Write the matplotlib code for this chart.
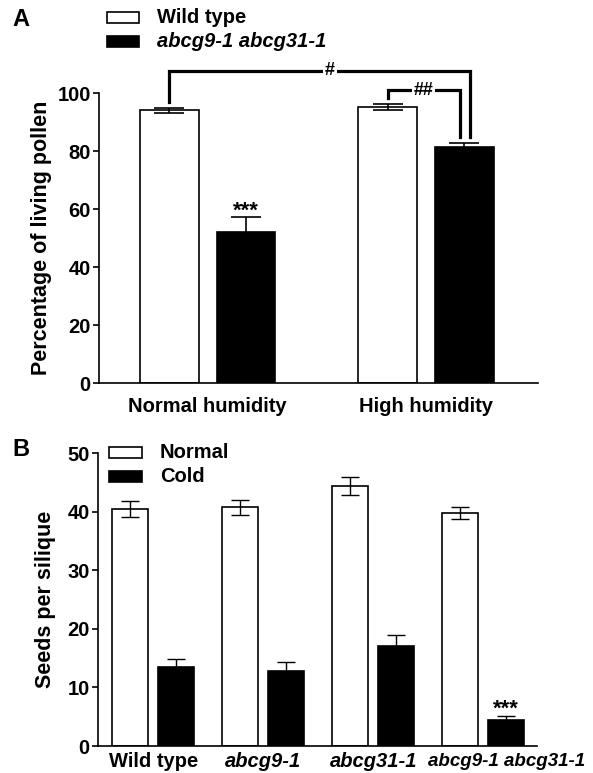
import numpy as np
import matplotlib
matplotlib.use('Agg')
import matplotlib.pyplot as plt
from matplotlib.patches import Rectangle
from matplotlib.transforms import ScaledTranslation

plt.rcParams['font.family'] = ['Liberation Sans', 'DejaVu Sans']
plt.rcParams['font.weight'] = 'bold'

# panel A: pollen viability
a_groups = ['Normal humidity', 'High humidity']
a_wt = [94.1, 95.3]
a_wt_err = [0.9, 1.0]
a_mut = [52.2, 81.5]
a_mut_err = [5.0, 1.4]

# panel B: seeds per silique
b_groups = ['Wild type', 'abcg9-1', 'abcg31-1', 'abcg9-1 abcg31-1']
b_normal = [40.5, 40.8, 44.4, 39.8]
b_normal_err = [1.3, 1.3, 1.5, 1.0]
b_cold = [13.5, 12.8, 17.1, 4.4]
b_cold_err = [1.3, 1.5, 1.9, 0.7]

W, H = 593, 773
FS = 14.5
fig = plt.figure(figsize=(W / 100, H / 100), dpi=100)


def fx(px):
    return px / W


def fy(py):
    return 1 - py / H


def style_axes(ax, xpad):
    for s in ['top', 'right']:
        ax.spines[s].set_visible(False)
    for s in ['left', 'bottom']:
        ax.spines[s].set_linewidth(1.2)
    ax.tick_params(axis='y', direction='out', length=4, width=1.2, pad=2, labelsize=FS)
    ax.tick_params(axis='x', length=0, pad=xpad, labelsize=FS)
    for lab in ax.get_yticklabels() + ax.get_xticklabels():
        lab.set_fontweight('bold')


def legend_box(x0, y0, x1, y1, filled, label, italic=False):
    fig.add_artist(Rectangle((fx(x0), fy(y1)), fx(x1) - fx(x0), fy(y0) - fy(y1),
                             transform=fig.transFigure, facecolor='black' if filled else 'white',
                             edgecolor='black', linewidth=1.2))
    fig.text(fx(x1 + 18), fy((y0 + y1) / 2), label, fontsize=FS, fontweight='bold',
             style='italic' if italic else 'normal', va='center', ha='left')


# ---------------- Panel A ----------------
axA = fig.add_axes([fx(99), fy(383.3), fx(538) - fx(99), fy(93.3) - fy(383.3)])
xa = np.arange(len(a_groups))
wa = 0.27
off = 0.176
axA.bar(xa - off, a_wt, wa, color='white', edgecolor='black', linewidth=1.2)
axA.bar(xa + off, a_mut, wa, color='black', edgecolor='black', linewidth=1.2)
axA.errorbar(xa - off, a_wt, yerr=a_wt_err, fmt='none', ecolor='black', elinewidth=1.2,
             capsize=10.5, capthick=1.2)
axA.errorbar(xa + off, a_mut, yerr=a_mut_err, fmt='none', ecolor='black', elinewidth=1.2,
             capsize=10.5, capthick=1.2)
axA.set_xlim(-0.497, 1.513)
axA.set_ylim(0, 100)
axA.set_yticks(np.arange(0, 101, 20))
axA.set_xticks(xa, a_groups)
axA.set_ylabel('Percentage of living pollen', fontsize=15.5, fontweight='bold', labelpad=4)
style_axes(axA, 10)

# significance stars
axA.text(xa[0] + off, a_mut[0] + a_mut_err[0] + 2.0, '***', ha='center', va='center',
         fontsize=16, fontweight='bold')

# brackets
lw_b = 2.3
y_hash = 107.7
axA.plot([xa[0] - off, xa[0] - off, xa[1] + off + 0.025, xa[1] + off + 0.025],
         [a_wt[0] + 3.0, y_hash, y_hash, a_mut[1] + 3.4], color='black', lw=lw_b,
         clip_on=False, solid_joinstyle='miter')
axA.text(0.56, y_hash, '#', ha='center', va='center', fontsize=13, fontweight='bold',
         bbox=dict(facecolor='white', edgecolor='none', pad=1.5), clip_on=False)
y_hh = 101.1
axA.plot([xa[1] - off, xa[1] - off, xa[1] + off - 0.02, xa[1] + off - 0.02],
         [a_wt[1] + 3.1, y_hh, y_hh, a_mut[1] + 3.4], color='black', lw=lw_b,
         clip_on=False, solid_joinstyle='miter')
axA.text(0.99, y_hh, '##', ha='center', va='center', fontsize=13, fontweight='bold',
         bbox=dict(facecolor='white', edgecolor='none', pad=1.0), clip_on=False)

fig.text(fx(12), fy(19), 'A', fontsize=17, fontweight='bold', va='center', ha='left')
legend_box(107, 12, 139, 23, False, 'Wild type')
legend_box(107, 36, 139, 47, True, 'abcg9-1 abcg31-1', italic=True)

# ---------------- Panel B ----------------
axB = fig.add_axes([fx(98), fy(746), fx(537) - fx(98), fy(453.3) - fy(746)])
xb = np.arange(len(b_groups))
wb = 0.327
offb = 0.209
axB.bar(xb - offb, b_normal, wb, color='white', edgecolor='black', linewidth=1.2)
axB.bar(xb + offb, b_cold, wb, color='black', edgecolor='black', linewidth=1.2)
axB.errorbar(xb - offb, b_normal, yerr=b_normal_err, fmt='none', ecolor='black',
             elinewidth=1.0, capsize=6.5, capthick=1.0)
axB.errorbar(xb + offb, b_cold, yerr=b_cold_err, fmt='none', ecolor='black',
             elinewidth=1.0, capsize=6.5, capthick=1.0)
axB.set_xlim(-0.503, 3.488)
axB.set_ylim(0, 50)
axB.set_yticks(np.arange(0, 51, 10))
axB.set_xticks(xb, b_groups)
axB.set_ylabel('Seeds per silique', fontsize=15.5, fontweight='bold', labelpad=8)
style_axes(axB, 4)
for i, lab in enumerate(axB.get_xticklabels()):
    if i > 0:
        lab.set_style('italic')
last = axB.get_xticklabels()[3]
last.set_fontsize(13.5)
last.set_transform(last.get_transform() + ScaledTranslation(0.23, -0.015, fig.dpi_scale_trans))

axB.text(xb[3] + offb, b_cold[3] + b_cold_err[3] + 1.2, '***', ha='center', va='center',
         fontsize=16, fontweight='bold')

fig.text(fx(12), fy(449), 'B', fontsize=17, fontweight='bold', va='center', ha='left')
legend_box(109, 447, 142, 458, False, 'Normal')
legend_box(109, 471, 142, 482, True, 'Cold')

fig.savefig('out.png', dpi=100)
